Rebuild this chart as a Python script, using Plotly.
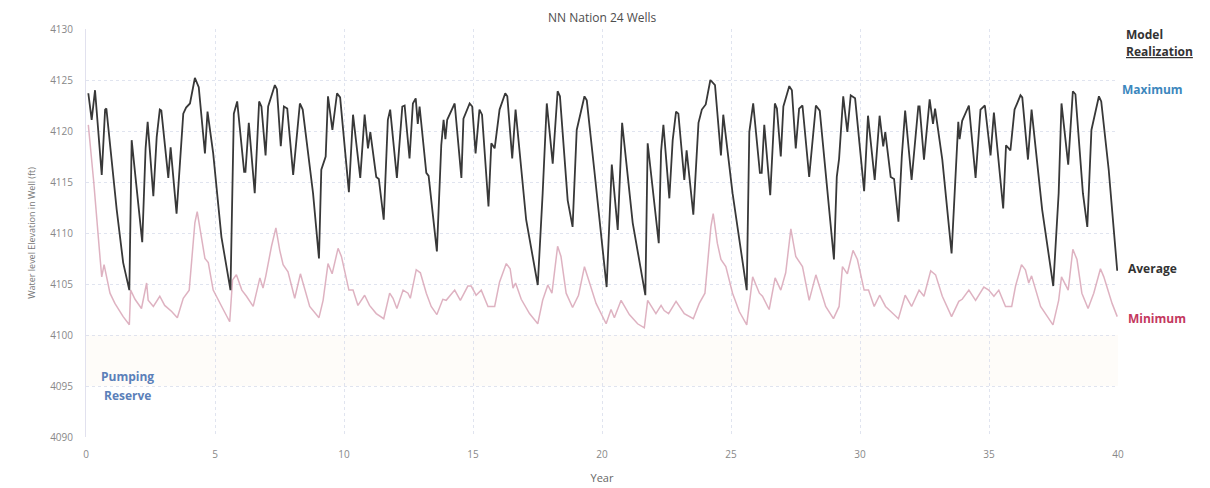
import plotly.graph_objects as go

# ---- Data ----
avg_year = [0.09, 0.22, 0.35, 0.61, 0.74, 0.79, 1.19, 1.44, 1.68, 1.77, 2.18, 2.31, 2.39, 2.61, 2.74, 2.86, 2.92,
            3.19, 3.28, 3.51, 3.77, 3.88, 4.03, 4.22, 4.37, 4.61, 4.71, 4.93, 5.25, 5.60, 5.73, 5.86, 6.13, 6.18,
            6.31, 6.54, 6.71, 6.80, 6.96, 7.06, 7.32, 7.40, 7.55, 7.67, 7.80, 8.03, 8.29, 8.40, 8.80, 9.03, 9.12,
            9.29, 9.38, 9.55, 9.73, 9.85, 10.19, 10.35, 10.63, 10.80, 10.93, 11.02, 11.25, 11.35, 11.54, 11.70,
            11.79, 12.05, 12.26, 12.35, 12.54, 12.67, 12.78, 12.86, 12.93, 13.19, 13.28, 13.60, 13.77, 13.86,
            13.93, 14.00, 14.29, 14.55, 14.63, 14.87, 14.97, 15.10, 15.25, 15.35, 15.60, 15.71, 15.84, 16.03,
            16.25, 16.33, 16.52, 16.65, 17.06, 17.51, 17.70, 17.86, 18.09, 18.28, 18.37, 18.67, 18.86, 19.02,
            19.32, 19.41, 19.70, 20.18, 20.38, 20.61, 20.78, 21.19, 21.68, 21.77, 22.20, 22.29, 22.38, 22.61,
            22.74, 22.87, 22.96, 23.19, 23.28, 23.54, 23.74, 23.87, 24.02, 24.20, 24.38, 24.61, 24.70, 25.06,
            25.61, 25.71, 25.86, 26.12, 26.19, 26.29, 26.52, 26.70, 26.78, 26.93, 27.03, 27.26, 27.36, 27.51,
            27.64, 27.77, 28.03, 28.29, 28.44, 28.99, 29.10, 29.19, 29.35, 29.51, 29.64, 29.81, 30.16, 30.31,
            30.57, 30.76, 30.90, 30.98, 31.19, 31.32, 31.49, 31.62, 31.75, 32.00, 32.26, 32.31, 32.48, 32.70,
            32.83, 32.91, 33.19, 33.55, 33.81, 33.86, 33.96, 34.22, 34.48, 34.67, 34.84, 35.06, 35.19, 35.55,
            35.66, 35.83, 35.99, 36.22, 36.29, 36.51, 36.65, 37.06, 37.49, 37.70, 37.81, 38.07, 38.25, 38.35,
            38.64, 38.81, 38.97, 39.26, 39.35, 39.64, 39.97]
avg_level = [4123.7, 4121.1, 4124.0, 4115.7, 4122.1, 4122.2, 4112.3, 4107.1, 4104.4, 4119.1, 4109.1, 4118.3, 4120.9,
             4113.6, 4119.4, 4122.1, 4122.0, 4115.4, 4118.4, 4111.9, 4121.7, 4122.3, 4122.7, 4125.2, 4124.3,
             4117.8, 4121.9, 4117.8, 4109.6, 4104.4, 4121.7, 4122.9, 4116.0, 4116.0, 4120.8, 4113.9, 4122.9,
             4122.4, 4117.6, 4122.4, 4124.5, 4124.1, 4118.5, 4122.4, 4122.2, 4115.7, 4122.7, 4122.1, 4113.9,
             4107.5, 4116.2, 4117.5, 4123.4, 4120.1, 4123.7, 4123.3, 4114.0, 4121.6, 4115.4, 4121.6, 4118.3,
             4119.9, 4115.5, 4115.3, 4111.3, 4121.1, 4122.1, 4115.4, 4122.4, 4122.5, 4117.3, 4122.7, 4123.2,
             4120.7, 4122.4, 4115.9, 4115.6, 4108.2, 4118.6, 4121.1, 4119.2, 4121.1, 4122.7, 4115.4, 4121.2,
             4122.7, 4122.4, 4117.8, 4122.1, 4121.6, 4112.6, 4118.8, 4118.3, 4122.1, 4123.7, 4123.4, 4117.3,
             4122.1, 4111.3, 4104.9, 4113.9, 4122.7, 4116.8, 4123.9, 4123.4, 4113.2, 4110.6, 4120.1, 4123.4,
             4123.0, 4116.2, 4104.7, 4116.7, 4110.3, 4120.8, 4111.0, 4103.9, 4118.8, 4109.0, 4118.0, 4120.6,
             4113.4, 4119.1, 4121.9, 4121.7, 4115.2, 4118.1, 4111.8, 4120.8, 4122.1, 4122.6, 4125.0, 4124.5,
             4117.6, 4121.6, 4113.9, 4104.4, 4119.9, 4122.7, 4115.9, 4115.9, 4120.6, 4113.7, 4122.7, 4122.2,
             4117.5, 4122.4, 4124.4, 4124.0, 4118.3, 4122.2, 4122.5, 4115.5, 4122.5, 4122.0, 4107.4, 4115.5,
             4117.3, 4123.4, 4119.9, 4123.5, 4123.2, 4114.1, 4121.5, 4115.2, 4121.5, 4118.5, 4119.9, 4115.5,
             4115.3, 4111.1, 4117.5, 4122.0, 4115.2, 4122.4, 4122.4, 4117.2, 4123.1, 4120.7, 4122.2, 4117.2,
             4108.0, 4120.9, 4119.2, 4121.0, 4122.5, 4115.4, 4122.1, 4122.5, 4117.6, 4121.8, 4112.4, 4118.6,
             4118.1, 4122.1, 4123.5, 4123.3, 4117.2, 4122.1, 4112.3, 4104.8, 4113.9, 4122.7, 4116.7, 4123.9,
             4123.6, 4113.9, 4110.6, 4120.1, 4123.4, 4122.9, 4116.2, 4106.3]

min_year = [0.09, 0.30, 0.55, 0.61, 0.70, 0.93, 1.12, 1.44, 1.68, 1.73, 1.90, 2.15, 2.35, 2.41, 2.61, 2.86, 3.05,
            3.32, 3.54, 3.77, 4.00, 4.22, 4.31, 4.47, 4.61, 4.74, 4.93, 5.32, 5.57, 5.68, 5.83, 6.04, 6.22, 6.48,
            6.74, 6.86, 6.97, 7.19, 7.36, 7.51, 7.64, 7.83, 8.09, 8.31, 8.67, 9.03, 9.19, 9.38, 9.54, 9.77, 9.90,
            10.19, 10.35, 10.54, 10.80, 10.99, 11.25, 11.54, 11.77, 11.90, 12.05, 12.29, 12.48, 12.57, 12.80,
            12.96, 13.19, 13.38, 13.60, 13.83, 13.96, 14.29, 14.51, 14.80, 14.93, 15.12, 15.32, 15.58, 15.84,
            16.03, 16.29, 16.44, 16.55, 16.65, 16.87, 17.19, 17.51, 17.70, 17.90, 18.06, 18.28, 18.41, 18.61,
            18.86, 19.09, 19.32, 19.45, 19.77, 20.16, 20.35, 20.48, 20.74, 21.06, 21.38, 21.64, 21.77, 22.09,
            22.29, 22.41, 22.58, 22.87, 23.19, 23.54, 23.77, 23.99, 24.22, 24.31, 24.47, 24.61, 24.80, 25.06,
            25.32, 25.61, 25.84, 26.10, 26.22, 26.48, 26.71, 26.93, 27.12, 27.32, 27.51, 27.77, 28.03, 28.29,
            28.67, 28.97, 29.19, 29.32, 29.51, 29.73, 29.90, 30.16, 30.33, 30.55, 30.76, 30.99, 31.49, 31.75,
            32.00, 32.29, 32.48, 32.74, 32.93, 33.19, 33.55, 33.83, 33.96, 34.22, 34.48, 34.80, 34.99, 35.19,
            35.38, 35.64, 35.88, 36.03, 36.26, 36.41, 36.54, 36.65, 37.00, 37.48, 37.70, 37.81, 38.07, 38.25,
            38.41, 38.60, 38.84, 39.06, 39.32, 39.45, 39.77, 39.97]
min_level = [4120.6, 4115.0, 4107.4, 4105.7, 4106.9, 4104.1, 4103.1, 4101.8, 4101.0, 4104.4, 4103.5, 4102.6,
             4105.1, 4103.4, 4102.8, 4103.8, 4102.9, 4102.3, 4101.7, 4103.6, 4104.4, 4111.0, 4112.1, 4109.6,
             4107.5, 4107.1, 4104.4, 4102.5, 4101.3, 4105.4, 4105.9, 4104.4, 4103.8, 4102.8, 4105.6, 4104.6,
             4105.8, 4108.7, 4110.5, 4108.3, 4106.9, 4106.2, 4103.6, 4106.0, 4102.8, 4101.7, 4103.4, 4107.0,
             4106.0, 4108.5, 4107.7, 4104.4, 4104.4, 4102.9, 4103.9, 4102.9, 4102.1, 4101.6, 4104.1, 4103.6,
             4102.6, 4104.4, 4104.1, 4103.6, 4106.4, 4106.1, 4104.1, 4102.8, 4102.0, 4103.5, 4103.4, 4104.4,
             4103.4, 4104.8, 4104.8, 4103.9, 4104.4, 4102.8, 4102.8, 4105.2, 4107.0, 4106.5, 4104.6, 4105.1,
             4103.5, 4102.1, 4101.1, 4103.4, 4104.9, 4104.1, 4108.7, 4107.7, 4104.1, 4102.7, 4103.9, 4106.7,
             4105.7, 4103.1, 4101.1, 4102.5, 4101.7, 4103.4, 4102.0, 4101.1, 4100.7, 4103.4, 4102.1, 4102.9,
             4102.4, 4102.1, 4103.3, 4102.1, 4101.6, 4103.1, 4104.1, 4110.6, 4111.9, 4109.0, 4107.4, 4106.7,
             4104.1, 4102.3, 4101.0, 4105.7, 4104.1, 4103.8, 4102.5, 4105.6, 4104.4, 4106.1, 4110.4, 4107.7,
             4106.7, 4103.4, 4105.9, 4102.8, 4101.6, 4102.8, 4106.7, 4106.0, 4108.3, 4107.4, 4104.4, 4104.4,
             4102.8, 4103.9, 4102.8, 4101.6, 4103.9, 4102.8, 4104.4, 4103.8, 4106.3, 4105.9, 4103.8, 4101.8,
             4103.3, 4103.5, 4104.4, 4103.4, 4104.7, 4104.4, 4103.8, 4104.4, 4102.8, 4102.8, 4104.8, 4106.9,
             4106.4, 4105.1, 4105.8, 4102.8, 4101.0, 4103.4, 4105.7, 4104.4, 4108.4, 4107.4, 4104.1, 4102.6,
             4104.1, 4106.5, 4105.7, 4103.1, 4101.8]

x_ticks = [0, 5, 10, 15, 20, 25, 30, 35, 40]
y_ticks = [4090, 4095, 4100, 4105, 4110, 4115, 4120, 4125, 4130]
reserve_band = [4095, 4100]

FONT = "Open Sans, Lato, sans-serif"

fig = go.Figure()

fig.add_hrect(y0=reserve_band[0], y1=reserve_band[1], fillcolor="rgba(250,228,205,0.12)",
              line_width=0, layer="below")

fig.add_trace(go.Scatter(x=min_year, y=min_level, mode="lines", name="Minimum",
                         line=dict(color="rgba(216,165,182,0.85)", width=1.5)))
fig.add_trace(go.Scatter(x=avg_year, y=avg_level, mode="lines", name="Average",
                         line=dict(color="#383838", width=1.8)))

grid = "rgba(214,219,234,0.75)"
fig.update_xaxes(range=[0, 40], tickvals=x_ticks, showgrid=True, gridcolor=grid, griddash="dot",
                 gridwidth=1, zeroline=False, showline=False, ticks="", automargin=False,
                 ticklabelstandoff=10,
                 tickfont=dict(family=FONT, size=10, color="#888"),
                 title=dict(text="Year", font=dict(family=FONT, size=11, color="#666"), standoff=14))
fig.update_yaxes(range=[4090, 4130], tickvals=y_ticks, showgrid=True, gridcolor=grid, griddash="dot",
                 gridwidth=1, zeroline=False, showline=True, linecolor="rgba(222,222,236,0.9)",
                 ticks="", ticklabelstandoff=10, automargin=False,
                 tickfont=dict(family=FONT, size=10, color="#888"),
                 title=dict(text="Water level Elevation in Well (ft)",
                            font=dict(family=FONT, size=9, color="#777"), standoff=12))

ann = [
    dict(text="NN Nation 24 Wells", x=0.5, y=1, xref="paper", yref="paper", yshift=12,
         font=dict(family=FONT, size=12, color="#4d4d4d"), xanchor="center", yanchor="middle"),
    dict(text="<b>Model</b>", x=1, y=4129.5, xref="paper", yref="y", xshift=6, xanchor="left",
         font=dict(family=FONT, size=12, color="#333")),
    dict(text="<b><u>Realization</u></b>", x=1, y=4127.8, xref="paper", yref="y", xshift=6, xanchor="left",
         font=dict(family=FONT, size=12, color="#333")),
    dict(text="<b>Maximum</b>", x=1, y=4124.1, xref="paper", yref="y", xshift=2, xanchor="left",
         font=dict(family=FONT, size=12, color="#3d87bd")),
    dict(text="<b>Average</b>", x=1, y=4106.5, xref="paper", yref="y", xshift=8, xanchor="left",
         font=dict(family=FONT, size=12, color="#333")),
    dict(text="<b>Minimum</b>", x=1, y=4101.6, xref="paper", yref="y", xshift=8, xanchor="left",
         font=dict(family=FONT, size=12, color="#c4385e")),
    dict(text="<b>Pumping</b>", x=1.6, y=4095.9, xref="x", yref="y", xanchor="center",
         font=dict(family=FONT, size=12, color="#5b80b9")),
    dict(text="<b>Reserve</b>", x=1.6, y=4094.1, xref="x", yref="y", xanchor="center",
         font=dict(family=FONT, size=12, color="#5b80b9")),
]
for a in ann:
    a["showarrow"] = False
    fig.add_annotation(**a)

# page has an 8px body margin; margins compensate so the plot area sits where the reference's does
fig.update_layout(width=1210, height=488, margin=dict(l=78, r=100, t=21, b=59),
                  paper_bgcolor="white", plot_bgcolor="white", showlegend=False)

fig.write_html("out.html")
